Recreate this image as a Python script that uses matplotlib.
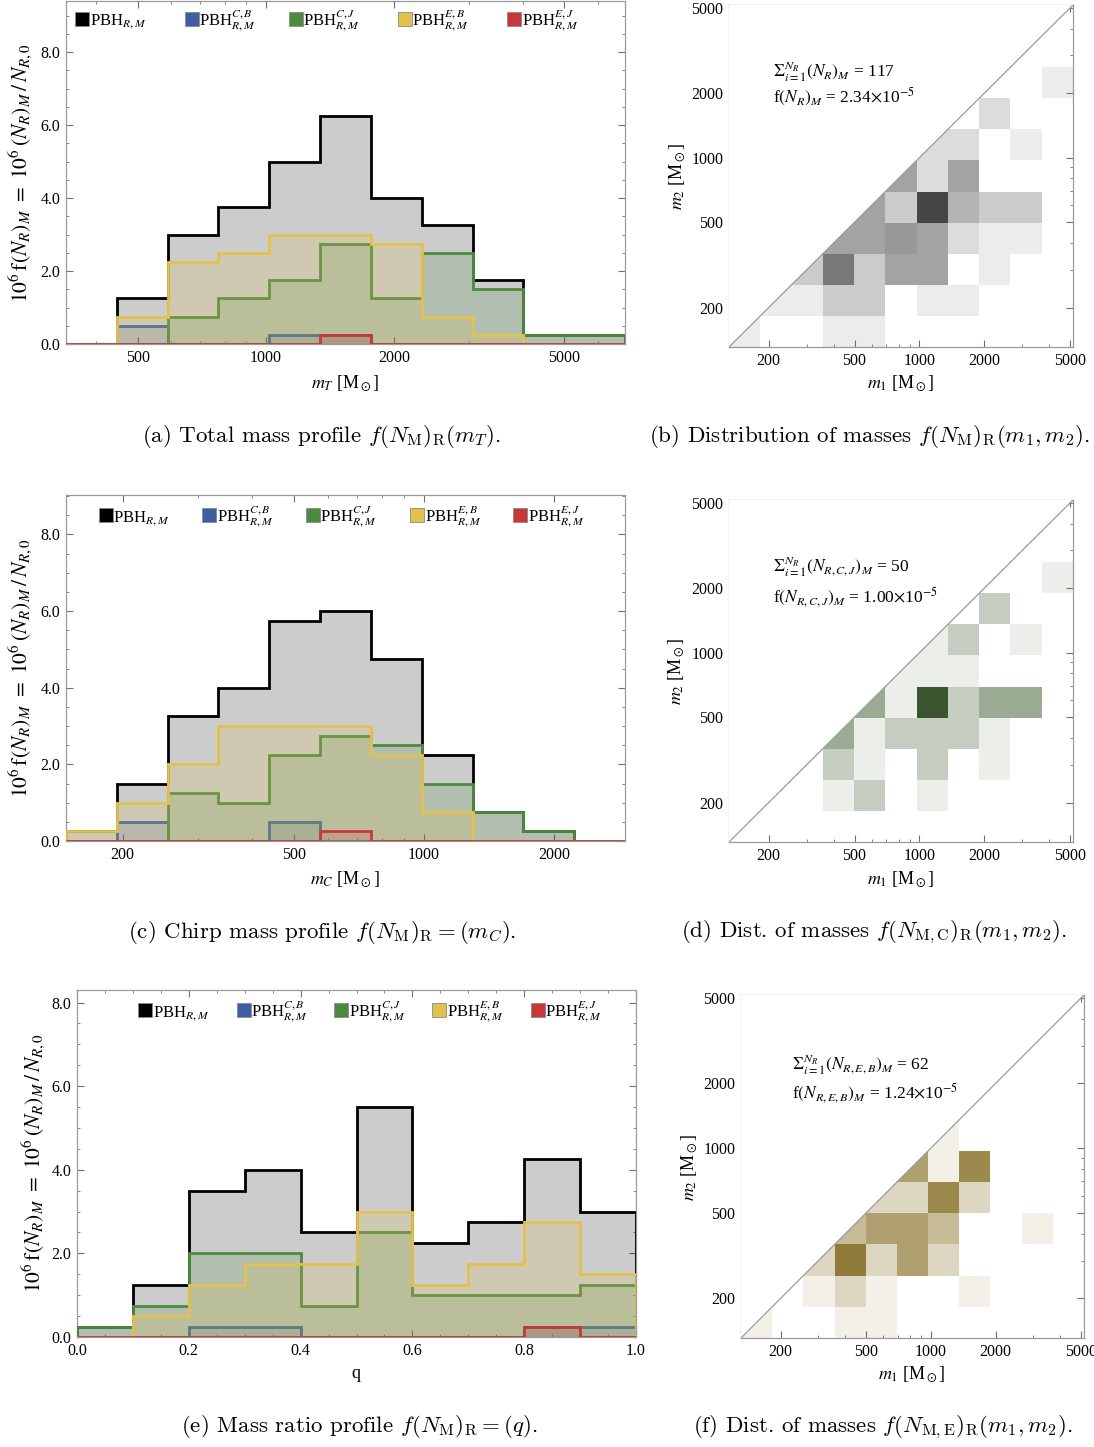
import numpy as np
import matplotlib
matplotlib.use('Agg')
import matplotlib.pyplot as plt
from matplotlib.colors import LinearSegmentedColormap
from matplotlib.ticker import MultipleLocator, LogLocator, NullFormatter
from matplotlib.transforms import offset_copy

plt.rcParams['font.family'] = 'serif'
plt.rcParams['font.serif'] = ['Liberation Serif', 'DejaVu Serif']
plt.rcParams['mathtext.fontset'] = 'stix'

# ---------------- data ----------------
series_labels = [r'PBH$_{R,M}$', r'PBH$^{C,B}_{R,M}$', r'PBH$^{C,J}_{R,M}$',
                 r'PBH$^{E,B}_{R,M}$', r'PBH$^{E,J}_{R,M}$']
series_colors = ['#000000', '#3d5ea5', '#4e8a3e', '#e3c14d', '#c8383a']

# total mass m_T (log-spaced bins)
mT_edges = [339.6, 446.9, 588.1, 773.8, 1018.1, 1339.7, 1762.8, 2319.6, 3052.2, 4016.2, 5284.5, 6953.7]
mT_black = [0, 1.25, 3.0, 3.75, 5.0, 6.25, 4.0, 3.25, 1.75, 0.25, 0.25]
mT_blue = [0, 0.5, 0, 0, 0.25, 0.25, 0, 0, 0, 0, 0]
mT_green = [0, 0, 0.75, 1.25, 1.75, 2.75, 1.25, 2.5, 1.5, 0.25, 0.25]
mT_yellow = [0, 0.75, 2.25, 2.5, 3.0, 3.0, 2.75, 0.75, 0.25, 0, 0]
mT_red = [0, 0, 0, 0, 0, 0.25, 0, 0, 0, 0, 0]

# chirp mass m_C
mC_edges = [147.9, 194.0, 254.4, 333.7, 437.8, 574.1, 753.1, 987.6, 1295.6, 1699.3, 2228.4, 2922.9]
mC_black = [0.25, 1.5, 3.25, 4.0, 5.75, 6.0, 4.75, 2.25, 0.75, 0.25, 0]
mC_blue = [0, 0.5, 0, 0, 0.5, 0, 0, 0, 0, 0, 0]
mC_green = [0, 0, 1.25, 1.0, 2.25, 2.75, 2.5, 1.5, 0.75, 0.25, 0]
mC_yellow = [0.25, 1.0, 2.0, 3.0, 3.0, 3.0, 2.25, 0.75, 0, 0, 0]
mC_red = [0, 0, 0, 0, 0, 0.25, 0, 0, 0, 0, 0]

# mass ratio q
q_edges = [0.0, 0.1, 0.2, 0.3, 0.4, 0.5, 0.6, 0.7, 0.8, 0.9, 1.0]
q_black = [0.25, 1.25, 3.5, 4.0, 2.5, 5.5, 2.25, 2.75, 4.25, 3.0]
q_blue = [0, 0, 0.25, 0.25, 0, 0, 0, 0, 0.25, 0.25]
q_green = [0.25, 0.75, 2.0, 2.0, 0.75, 2.5, 1.0, 1.0, 1.0, 1.25]
q_yellow = [0, 0.5, 1.25, 1.75, 1.75, 3.0, 1.25, 1.75, 2.75, 1.5]
q_red = [0, 0, 0, 0, 0, 0, 0, 0, 0.25, 0]

# (m1, m2) density histograms, rows = m2 bins (bottom -> top), cols = m1 bins
hm_edges = [130.9, 182.8, 255.3, 356.5, 497.7, 695.0, 970.5, 1355.2, 1892.3, 2642.4, 3689.8, 5152.3]
counts_all = [
    [1, 0, 0, 1, 1, 0, 0, 0, 0, 0, 0],
    [0, 1, 1, 3, 3, 0, 1, 1, 0, 0, 0],
    [0, 0, 3, 7, 3, 5, 5, 0, 1, 0, 0],
    [0, 0, 0, 5, 5, 6, 5, 2, 1, 1, 0],
    [0, 0, 0, 0, 5, 3, 10, 4, 3, 3, 0],
    [0, 0, 0, 0, 0, 5, 2, 5, 0, 0, 0],
    [0, 0, 0, 0, 0, 0, 2, 2, 0, 1, 0],
    [0, 0, 0, 0, 0, 0, 0, 0, 2, 0, 0],
    [0, 0, 0, 0, 0, 0, 0, 0, 0, 0, 1],
    [0, 0, 0, 0, 0, 0, 0, 0, 0, 0, 0],
    [0, 0, 0, 0, 0, 0, 0, 0, 0, 0, 0],
]
counts_CJ = [
    [0, 0, 0, 0, 0, 0, 0, 0, 0, 0, 0],
    [0, 0, 0, 1, 2, 0, 1, 0, 0, 0, 0],
    [0, 0, 0, 2, 1, 0, 2, 0, 1, 0, 0],
    [0, 0, 0, 3, 1, 2, 2, 2, 1, 0, 0],
    [0, 0, 0, 0, 3, 1, 7, 2, 3, 3, 0],
    [0, 0, 0, 0, 0, 1, 1, 1, 0, 0, 0],
    [0, 0, 0, 0, 0, 0, 1, 2, 0, 1, 0],
    [0, 0, 0, 0, 0, 0, 0, 0, 2, 0, 0],
    [0, 0, 0, 0, 0, 0, 0, 0, 0, 0, 1],
    [0, 0, 0, 0, 0, 0, 0, 0, 0, 0, 0],
    [0, 0, 0, 0, 0, 0, 0, 0, 0, 0, 0],
]
counts_EB = [
    [1, 0, 0, 1, 1, 0, 0, 0, 0, 0, 0],
    [0, 0, 1, 2, 1, 0, 0, 1, 0, 0, 0],
    [0, 0, 2, 6, 2, 4, 2, 0, 0, 0, 0],
    [0, 0, 0, 3, 4, 4, 3, 0, 0, 1, 0],
    [0, 0, 0, 0, 2, 2, 5, 2, 0, 0, 0],
    [0, 0, 0, 0, 0, 4, 1, 5, 0, 0, 0],
    [0, 0, 0, 0, 0, 0, 1, 0, 0, 0, 0],
    [0, 0, 0, 0, 0, 0, 0, 0, 0, 0, 0],
    [0, 0, 0, 0, 0, 0, 0, 0, 0, 0, 0],
    [0, 0, 0, 0, 0, 0, 0, 0, 0, 0, 0],
    [0, 0, 0, 0, 0, 0, 0, 0, 0, 0, 0],
]

# colour ramps (count level -> shade), white at zero
gray_ramp = ['#ffffff', '#ececec', '#dcdcdc', '#cbcbcb', '#b4b4b4', '#a3a3a3',
             '#989898', '#787878', '#676767', '#565656', '#454545']
green_ramp = ['#ffffff', '#eceeea', '#c5cdc1', '#9aab94', '#88997f',
              '#6a7f60', '#52693f', '#3b5530']
olive_ramp = ['#ffffff', '#f3f0e8', '#ddd6c0', '#c8bc98', '#b0a070',
              '#9c8a4c', '#8f7a3a']

# ---------------- figure ----------------
W, H = 1094, 1447
fig = plt.figure(figsize=(W / 100, H / 100), dpi=100)


def add_ax(l, t, r, b):
    return fig.add_axes([l / W, 1 - b / H, (r - l) / W, (b - t) / H])


def ftext(x, y, s, **kw):
    return fig.text(x / W, 1 - y / H, s, **kw)


FRAME = '#9a9a9a'
TICKC = '#707070'


def style_axes(ax):
    for s in ax.spines.values():
        s.set_color(FRAME)
        s.set_linewidth(0.9)
    ax.tick_params(which='both', direction='in', top=True, right=True,
                   color=TICKC, labelsize=11.5, pad=4)
    ax.tick_params(which='major', length=5, width=0.8)
    ax.tick_params(which='minor', length=2.5, width=0.6)


def hist_panel(ax, edges, series, xlim, ylim, legend_x, legend_y):
    for i, (vals, col) in enumerate(zip(series, series_colors)):
        ax.stairs(vals, edges, fill=True, facecolor=col, alpha=0.2,
                  linewidth=0, zorder=2 + 2 * i)
        ax.stairs(vals, edges, fill=False, baseline=0, edgecolor=col,
                  linewidth=2.0, zorder=3 + 2 * i)
    ax.set_xlim(*xlim)
    ax.set_ylim(*ylim)
    ax.set_yticks([0, 2, 4, 6, 8])
    ax.set_yticklabels(['0.0', '2.0', '4.0', '6.0', '8.0'])
    ax.yaxis.set_minor_locator(MultipleLocator(0.5))
    style_axes(ax)
    tr = offset_copy(ax.transAxes, fig=fig, x=5.5, y=-4.5, units='points')
    for x, lab, col in zip(legend_x, series_labels, series_colors):
        ax.plot([x], [legend_y], marker='s', ms=10, mfc=col, mec='#8a8a8a',
                mew=0.6, transform=ax.transAxes, clip_on=False, zorder=30)
        ax.text(x, legend_y, lab, transform=tr, ha='left', va='baseline',
                fontsize=12, zorder=30)


def log_ticks(axis, ticks):
    axis.set_ticks(ticks)
    axis.set_ticklabels([str(t) for t in ticks])
    axis.set_minor_locator(LogLocator(base=10, subs=np.arange(1, 10)))
    axis.set_minor_formatter(NullFormatter())


def heat_panel(ax, counts, ramp, lines, tx, ty1, ty2):
    e = np.array(hm_edges)
    n = len(ramp) - 1
    cmap = LinearSegmentedColormap.from_list(
        'c', [(k / n, c) for k, c in enumerate(ramp)])
    ax.pcolormesh(e, e, np.array(counts), cmap=cmap, vmin=0, vmax=n,
                  shading='flat', zorder=1)
    ax.set_xscale('log')
    ax.set_yscale('log')
    ax.set_xlim(e[0], e[-1])
    ax.set_ylim(e[0], e[-1])
    ax.fill([e[0], e[-1], e[0]], [e[0], e[-1], e[-1]], color='white',
            lw=0, zorder=3)
    ax.plot([e[0], e[-1]], [e[0], e[-1]], color='#9a9a9a', lw=0.9, zorder=4)
    log_ticks(ax.xaxis, [200, 500, 1000, 2000, 5000])
    log_ticks(ax.yaxis, [200, 500, 1000, 2000, 5000])
    style_axes(ax)
    ax.text(tx, ty1, lines[0], transform=ax.transAxes, ha='left',
            va='center', fontsize=12.5, zorder=5)
    ax.text(tx, ty2, lines[1], transform=ax.transAxes, ha='left',
            va='center', fontsize=12.5, zorder=5)


ylab = r'$10^6\,\mathrm{f}(N_R)_M\ =\ 10^6\,(N_R)_M\,/\,N_{R,0}$'
msun = r' [M$_\odot$]'

# (a) total mass
axa = add_ax(66, 1, 625, 344)
axa.set_xscale('log')
hist_panel(axa, mT_edges, [mT_black, mT_blue, mT_green, mT_yellow, mT_red],
           (mT_edges[0], mT_edges[-1]), (0, 9.4),
           [0.0286, 0.225, 0.411, 0.606, 0.802], 0.948)
log_ticks(axa.xaxis, [500, 1000, 2000, 5000])

# (c) chirp mass
axc = add_ax(66, 495, 625, 841)
axc.set_xscale('log')
hist_panel(axc, mC_edges, [mC_black, mC_blue, mC_green, mC_yellow, mC_red],
           (mC_edges[0], mC_edges[-1]), (0, 9.03),
           [0.0707, 0.256, 0.441, 0.628, 0.813], 0.942)
log_ticks(axc.xaxis, [200, 500, 1000, 2000])

# (e) mass ratio
axe = add_ax(77, 990, 636, 1337)
hist_panel(axe, q_edges, [q_black, q_blue, q_green, q_yellow, q_red],
           (0, 1.0), (0, 8.3),
           [0.1217, 0.298, 0.473, 0.648, 0.824], 0.942)
axe.set_xticks([0, 0.2, 0.4, 0.6, 0.8, 1.0])
axe.set_xticklabels(['0.0', '0.2', '0.4', '0.6', '0.8', '1.0'])
axe.xaxis.set_minor_locator(MultipleLocator(0.05))

# (b), (d), (f) density histograms
axb = add_ax(729, 5, 1073, 347)
heat_panel(axb, counts_all, gray_ramp,
           [r'$\Sigma_{i=1}^{N_R}(N_R)_M$ = 117',
            r'f$(N_R)_M$ = 2.34$\times$10$^{-5}$'], 0.128, 0.804, 0.731)
axd = add_ax(729, 500, 1073, 842)
heat_panel(axd, counts_CJ, green_ramp,
           [r'$\Sigma_{i=1}^{N_R}(N_{R,C,J})_M$ = 50',
            r'f$(N_{R,C,J})_M$ = 1.00$\times$10$^{-5}$'], 0.128, 0.804, 0.716)
axf = add_ax(741, 995, 1084, 1338)
heat_panel(axf, counts_EB, olive_ramp,
           [r'$\Sigma_{i=1}^{N_R}(N_{R,E,B})_M$ = 62',
            r'f$(N_{R,E,B})_M$ = 1.24$\times$10$^{-5}$'], 0.149, 0.796, 0.714)

# axis labels
ftext(20, 173, ylab, rotation=90, ha='center', va='center', fontsize=15.5)
ftext(20, 668, ylab, rotation=90, ha='center', va='center', fontsize=15.5)
ftext(33, 1163, ylab, rotation=90, ha='center', va='center', fontsize=15.5)
ftext(345, 383, r'$m_T$' + msun, ha='center', va='center', fontsize=13)
ftext(345, 879, r'$m_C$' + msun, ha='center', va='center', fontsize=13)
ftext(356, 1373, 'q', ha='center', va='center', fontsize=13)
for (xl, yl, xx, yx) in [(677, 176, 901, 383), (676, 671, 901, 879), (689, 1167, 912, 1374)]:
    ftext(xl, yl, r'$m_2$' + msun, rotation=90, ha='center', va='center', fontsize=13)
    ftext(xx, yx, r'$m_1$' + msun, ha='center', va='center', fontsize=13)

# captions
caps = [
    (322, 436, r'(a) Total mass profile $f(N_{\rm M})_{\rm R}(m_T)$.'),
    (869, 436, r'(b) Distribution of masses $f(N_{\rm M})_{\rm R}(m_1, m_2)$.'),
    (322, 932, r'(c) Chirp mass profile $f(N_{\rm M})_{\rm R} = (m_C)$.'),
    (874, 932, r'(d) Dist. of masses $f(N_{\rm M,C})_{\rm R}(m_1, m_2)$.'),
    (360, 1427, r'(e) Mass ratio profile $f(N_{\rm M})_{\rm R} = (q)$.'),
    (883, 1427, r'(f) Dist. of masses $f(N_{\rm M,E})_{\rm R}(m_1, m_2)$.'),
]
for x, y, s in caps:
    ftext(x, y, s, ha='center', va='center', fontsize=16.5,
          family='cmr10', math_fontfamily='cm')

fig.savefig('out.png', dpi=100)
